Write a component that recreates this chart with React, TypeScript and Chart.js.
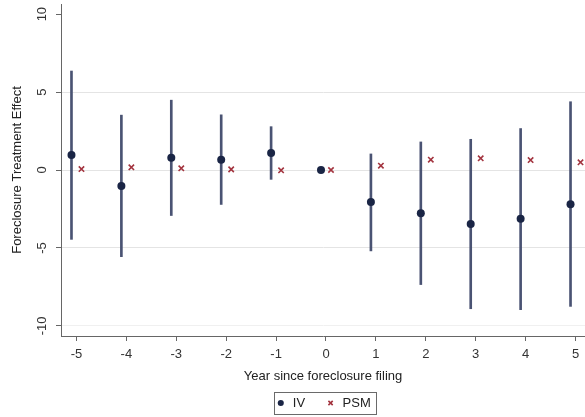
import React, { useEffect, useRef } from "react";
import { Chart, registerables } from "chart.js";

Chart.register(...registerables);

// ---- data ----
const years = [-5, -4, -3, -2, -1, 0, 1, 2, 3, 4, 5];
const ivEstimate = [0.96, -1.03, 0.79, 0.66, 1.09, 0.0, -2.06, -2.77, -3.47, -3.13, -2.19];
const ivLower = [-4.45, -5.56, -2.92, -2.21, -0.6, null, -5.19, -7.35, -8.9, -8.96, -8.75];
const ivUpper = [6.35, 3.52, 4.48, 3.54, 2.78, null, 1.03, 1.8, 1.97, 2.66, 4.38];
const psmEstimate = [0.06, 0.17, 0.11, 0.04, -0.02, 0.0, 0.28, 0.66, 0.75, 0.64, 0.49];
const seriesLabels = ["IV", "PSM"];
const xTitle = "Year since foreclosure filing";
const yTitle = "Foreclosure Treatment Effect";

// small horizontal dodge of the two estimators around each year
const ivDodge = -0.1;
const psmDodge = 0.1;

const FONT = "'Liberation Sans', Arial, Helvetica, sans-serif";

const legendBorder = {
  id: "legendBorder",
  afterDraw(chart: any) {
    const lg = chart.legend;
    if (!lg || !lg.legendHitBoxes || !lg.legendHitBoxes.length) return;
    const hb = lg.legendHitBoxes;
    const first = hb[0];
    const last = hb[hb.length - 1];
    const left = Math.round(first.left - 1) + 0.5;
    const right = Math.round(last.left + last.width + 5) + 0.5;
    const cy = first.top + first.height / 2;
    const top = Math.round(cy - 11) + 0.5;
    const bottom = Math.round(cy + 11) + 0.5;
    const ctx = chart.ctx;
    ctx.save();
    ctx.strokeStyle = "#6a6a6a";
    ctx.lineWidth = 1;
    ctx.strokeRect(left, top, right - left, bottom - top);
    ctx.restore();
  },
};

export default function App() {
  const ref = useRef<HTMLCanvasElement | null>(null);

  useEffect(() => {
    if (!ref.current) return;
    const ivPoints = years.map((x, i) => ({ x: x + ivDodge, y: ivEstimate[i] }));
    const psmPoints = years.map((x, i) => ({ x: x + psmDodge, y: psmEstimate[i] }));
    const ciBars = years
      .map((x, i) =>
        ivLower[i] === null || ivUpper[i] === null
          ? null
          : { x: x + ivDodge, y: [ivLower[i] as number, ivUpper[i] as number] }
      )
      .filter((d) => d !== null);

    const chart = new Chart(ref.current, {
      type: "scatter",
      data: {
        datasets: [
          {
            type: "scatter",
            label: seriesLabels[0],
            data: ivPoints,
            pointStyle: "circle",
            pointRadius: 4,
            backgroundColor: "#1a2545",
            borderColor: "#1a2545",
            borderWidth: 0,
          },
          {
            type: "scatter",
            label: seriesLabels[1],
            data: psmPoints,
            pointStyle: "crossRot",
            pointRadius: 3.8,
            backgroundColor: "#a3343f",
            borderColor: "#a3343f",
            borderWidth: 1.6,
          },
          {
            type: "bar",
            label: "CI",
            data: ciBars as any,
            backgroundColor: "#4a5373",
            borderWidth: 0,
            barThickness: 2,
          } as any,
        ],
      },
      options: {
        animation: false,
        responsive: false,
        events: [],
        layout: { autoPadding: false, padding: { left: 0, right: 0, top: 4, bottom: -2.5 } },
        scales: {
          x: {
            type: "linear",
            min: -5.31,
            max: 5.19,
            offset: false,
            afterFit: (s: any) => {
              s.height = 40.5;
              s.paddingLeft = 0;
              s.paddingRight = 0;
            },
            border: { display: true, color: "#666", width: 1 },
            grid: {
              offset: false,
              drawOnChartArea: false,
              drawTicks: true,
              tickLength: 5,
              tickColor: "#666",
            },
            ticks: {
              stepSize: 1,
              includeBounds: false,
              padding: 6,
              color: "#333",
              font: { family: FONT, size: 13 },
              maxRotation: 0,
              minRotation: 0,
            },
            title: {
              display: true,
              text: xTitle,
              color: "#222",
              font: { family: FONT, size: 13 },
              padding: { top: 0, bottom: -7.3 },
            },
          },
          y: {
            type: "linear",
            min: -10.65,
            max: 10.65,
            afterFit: (s: any) => {
              s.width = 61;
              s.paddingTop = 0;
              s.paddingBottom = 0;
            },
            border: { display: true, color: "#666", width: 1 },
            grid: {
              drawTicks: true,
              tickLength: 5,
              tickColor: "#666",
              color: (c: any) =>
                c.tick && c.tick.value === 10
                  ? "rgba(0,0,0,0)"
                  : c.tick && c.tick.value === -10
                  ? "#f0f0f0"
                  : "#e4e4e4",
              lineWidth: 1,
            },
            ticks: {
              stepSize: 5,
              includeBounds: false,
              padding: 4,
              minRotation: 90,
              maxRotation: 90,
              crossAlign: "center",
              color: "#333",
              font: { family: FONT, size: 13 },
            },
            title: {
              display: true,
              text: yTitle,
              color: "#222",
              font: { family: FONT, size: 13 },
              padding: { top: 10, bottom: 0 },
            },
          },
        },
        plugins: {
          tooltip: { enabled: false },
          legend: {
            display: true,
            position: "bottom",
            fullSize: false,
            labels: {
              usePointStyle: true,
              boxWidth: 11,
              boxHeight: 4.3,
              padding: 20,
              color: "#222",
              font: { family: FONT, size: 13 },
              filter: (item: any) => item.datasetIndex !== 2,
            },
          },
        },
      } as any,
      plugins: [legendBorder],
    });
    return () => chart.destroy();
  }, []);

  return (
    <div style={{ position: "fixed", left: 0, top: 0, width: 585, height: 417, background: "#fff" }}>
      <canvas ref={ref} width={585} height={417} style={{ display: "block" }} />
    </div>
  );
}
